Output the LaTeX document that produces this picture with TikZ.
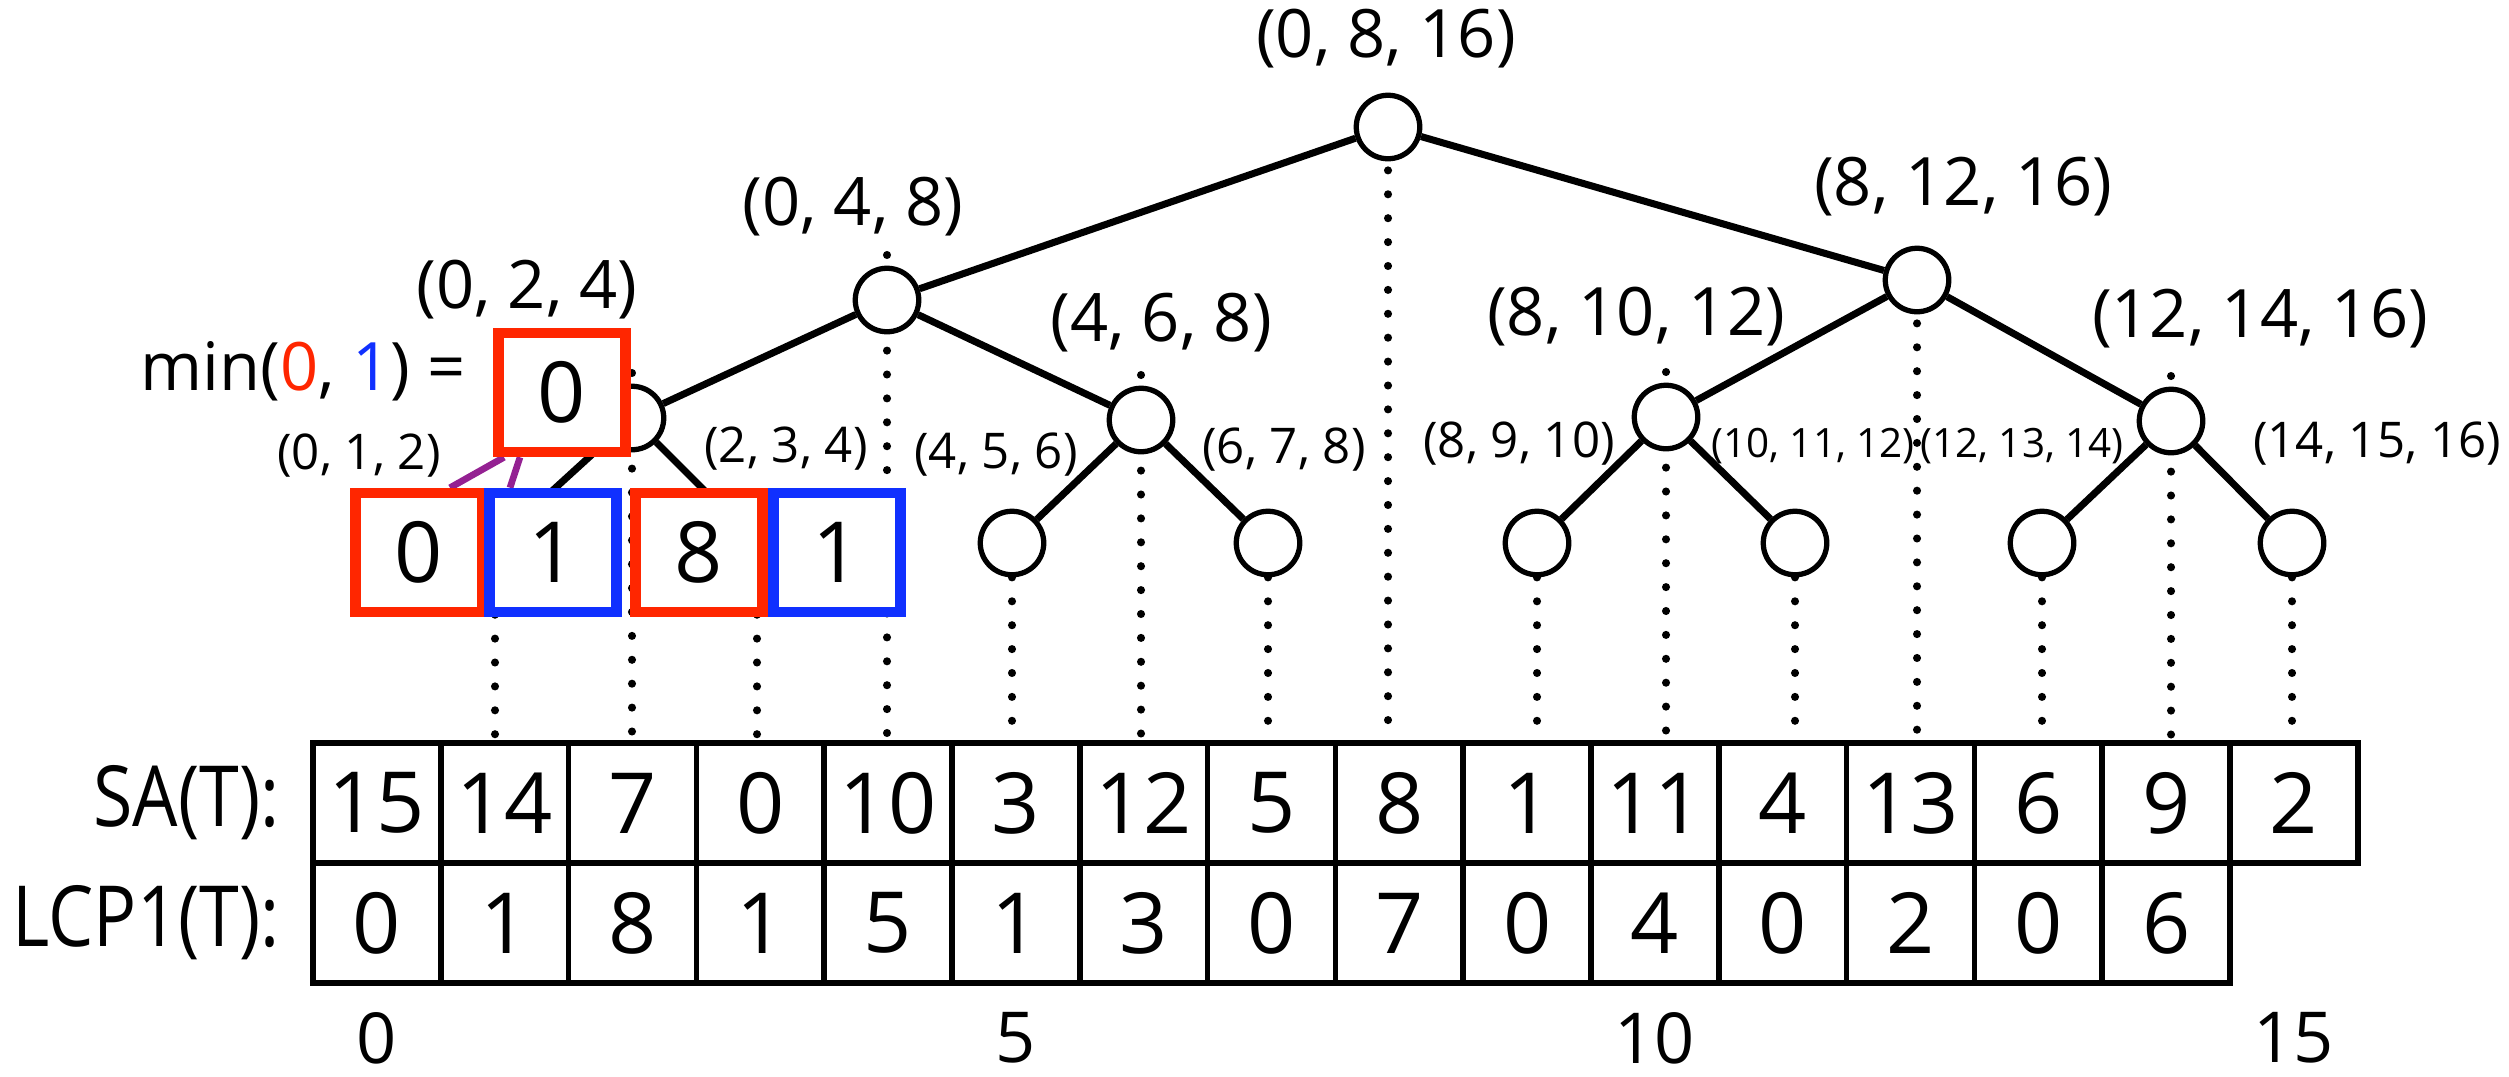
\documentclass[tikz,border=0pt]{standalone}
\usepackage{fontspec}
\setmainfont{Open Sans}
\newfontfamily\narrowfont{Open Sans}[FakeStretch=0.85]
\usetikzlibrary{backgrounds}

\definecolor{boxred}{RGB}{255,38,0}
\definecolor{boxblue}{RGB}{16,48,255}
\definecolor{minpurple}{RGB}{148,33,146}

\begin{document}
\begin{tikzpicture}[
  treenode/.style={circle, draw, line width=1.5pt, fill=white, minimum size=0.635cm, inner sep=0pt},
  treeline/.style={line width=2pt},
  dotline/.style={line width=2.3pt, line cap=round, dash pattern=on 0pt off 6.8pt},
  minline/.style={minpurple, line width=1.9pt},
  lbl/.style={font=\fontsize{19}{21}\selectfont},
  lblsmall/.style={font=\fontsize{14}{16}\selectfont},
  lbltiny/.style={font=\fontsize{11.5}{13}\selectfont},
  cell/.style={draw, line width=1.6pt, minimum width=1.278cm, minimum height=1.2cm,
    inner sep=0pt, font=\fontsize{24}{26}\selectfont},
  rowlbl/.style={anchor=east, inner sep=0pt, font=\narrowfont\fontsize{24}{26}\selectfont},
  valbox/.style={draw=#1, line width=3pt, fill=white, minimum width=1.27cm,
    minimum height=1.19cm, inner sep=0pt, font=\fontsize{24}{26}\selectfont},
]
\useasboundingbox (0,0) rectangle (25.09,-10.76);

% ===== 木のノード =====
\node[treenode] (root)    at (13.88,-1.27) {};
\node[treenode] (n048)    at (8.87,-3.00) {};
\node[treenode] (n81216)  at (19.17,-2.80) {};
\node[treenode] (n024)    at (6.32,-4.18) {};
\node[treenode] (n468)    at (11.41,-4.20) {};
\node[treenode] (n81012)  at (16.66,-4.17) {};
\node[treenode] (n121416) at (21.71,-4.21) {};

% 葉（左の2つは箱の下に隠れる）
\coordinate (n012) at (4.95,-5.43);
\coordinate (n234) at (7.57,-5.43);
\node[treenode] (n456)    at (10.12,-5.43) {};
\node[treenode] (n678)    at (12.68,-5.43) {};
\node[treenode] (n8910)   at (15.37,-5.43) {};
\node[treenode] (n101112) at (17.95,-5.43) {};
\node[treenode] (n121314) at (20.42,-5.43) {};
\node[treenode] (n141516) at (22.92,-5.43) {};

% 枝
\foreach \a/\b in {root/n048, root/n81216, n048/n024, n048/n468,
                   n81216/n81012, n81216/n121416, n024/n012, n024/n234,
                   n468/n456, n468/n678, n81012/n8910, n81012/n101112,
                   n121416/n121314, n121416/n141516}
  \draw[treeline] (\a) -- (\b);

% ===== min の箱 =====
\node[valbox=boxred]  (minbox) at (5.62,-3.925) {0};
\node[valbox=boxred]  (boxa)   at (4.19,-5.525) {0};
\node[valbox=boxblue] (boxb)   at (5.53,-5.525) {1};
\node[valbox=boxred]  (boxc)   at (6.99,-5.525) {8};
\node[valbox=boxblue] (boxd)   at (8.37,-5.525) {1};

\node[lbl] (minlbl) at (3.03,-3.71)
  {min(\textcolor{boxred}{0}, \textcolor{boxblue}{1}) =};

% ===== 区間のラベル =====
\node[lbl] (t0816)   at (13.86,-0.39) {(0, 8, 16)};
\node[lbl] (t048)    at (8.53,-2.07)  {(0, 4, 8)};
\node[lbl] (t81216)  at (19.63,-1.87) {(8, 12, 16)};
\node[lbl] (t024)    at (5.27,-2.90)  {(0, 2, 4)};
\node[lbl] (t468)    at (11.61,-3.23) {(4, 6, 8)};
\node[lbl] (t81012)  at (16.36,-3.17) {(8, 10, 12)};
\node[lbl] (t121416) at (22.60,-3.19) {(12, 14, 16)};

\node[lblsmall] (t012)    at (3.59,-4.56)  {(0, 1, 2)};
\node[lblsmall] (t234)    at (7.86,-4.49)  {(2, 3, 4)};
\node[lblsmall] (t456)    at (9.96,-4.55)  {(4, 5, 6)};
\node[lblsmall] (t678)    at (12.84,-4.50) {(6, 7, 8)};
\node[lblsmall] (t8910)   at (15.19,-4.44) {(8, 9, 10)};
\node[lbltiny]  (t101112) at (18.13,-4.46) {(10, 11, 12)};
\node[lbltiny]  (t121314) at (20.22,-4.46) {(12, 13, 14)};
\node[lblsmall] (t141516) at (23.77,-4.44) {(14, 15, 16)};

% ===== SA と LCP の表 =====
\foreach \v [count=\i from 0] in {15,14,7,0,10,3,12,5,8,1,11,4,13,6,9,2}
  \node[cell] (sa\i) at ({3.769+1.278*\i},-8.03) {\v};
\foreach \v [count=\i from 0] in {0,1,8,1,5,1,3,0,7,0,4,0,2,0,6}
  \node[cell] (lcp\i) at ({3.769+1.278*\i},-9.23) {\v};

\node[rowlbl] (salbl)  at (2.80,-8.03) {SA(T):};
\node[rowlbl] (lcplbl) at (2.80,-9.23) {LCP1(T):};

% 添字
\foreach \i in {0,5,10,15}
  \node[inner sep=0pt, font=\fontsize{20}{22}\selectfont] (idx\i) at ({3.769+1.278*\i},-10.38) {\i};

% ===== 点線と min の線（背面） =====
\begin{pgfonlayer}{background}
  \foreach \n in {n456, n678, n8910, n101112, n121314, n141516}
    \draw[dotline] (\n.south) -- (\n |- sa0.north);
  \foreach \n in {root, n81216}
    \draw[dotline] ([yshift=-0.09cm]\n.south) -- (\n |- sa0.north);
  \foreach \n in {n048, n024, n468, n81012, n121416}
    \draw[dotline] ([yshift=0.45cm]\n.center) -- (\n |- sa0.north);
  \draw[dotline] (n012) -- (n012 |- sa0.north);
  \draw[dotline] (n234) -- (n234 |- sa0.north);

  \draw[minline] ([xshift=-0.58cm]minbox.south) -- ([xshift=0.31cm]boxa.north);
  \draw[minline] ([xshift=-0.42cm]minbox.south) -- ([xshift=-0.43cm]boxb.north);
\end{pgfonlayer}

\end{tikzpicture}
\end{document}
